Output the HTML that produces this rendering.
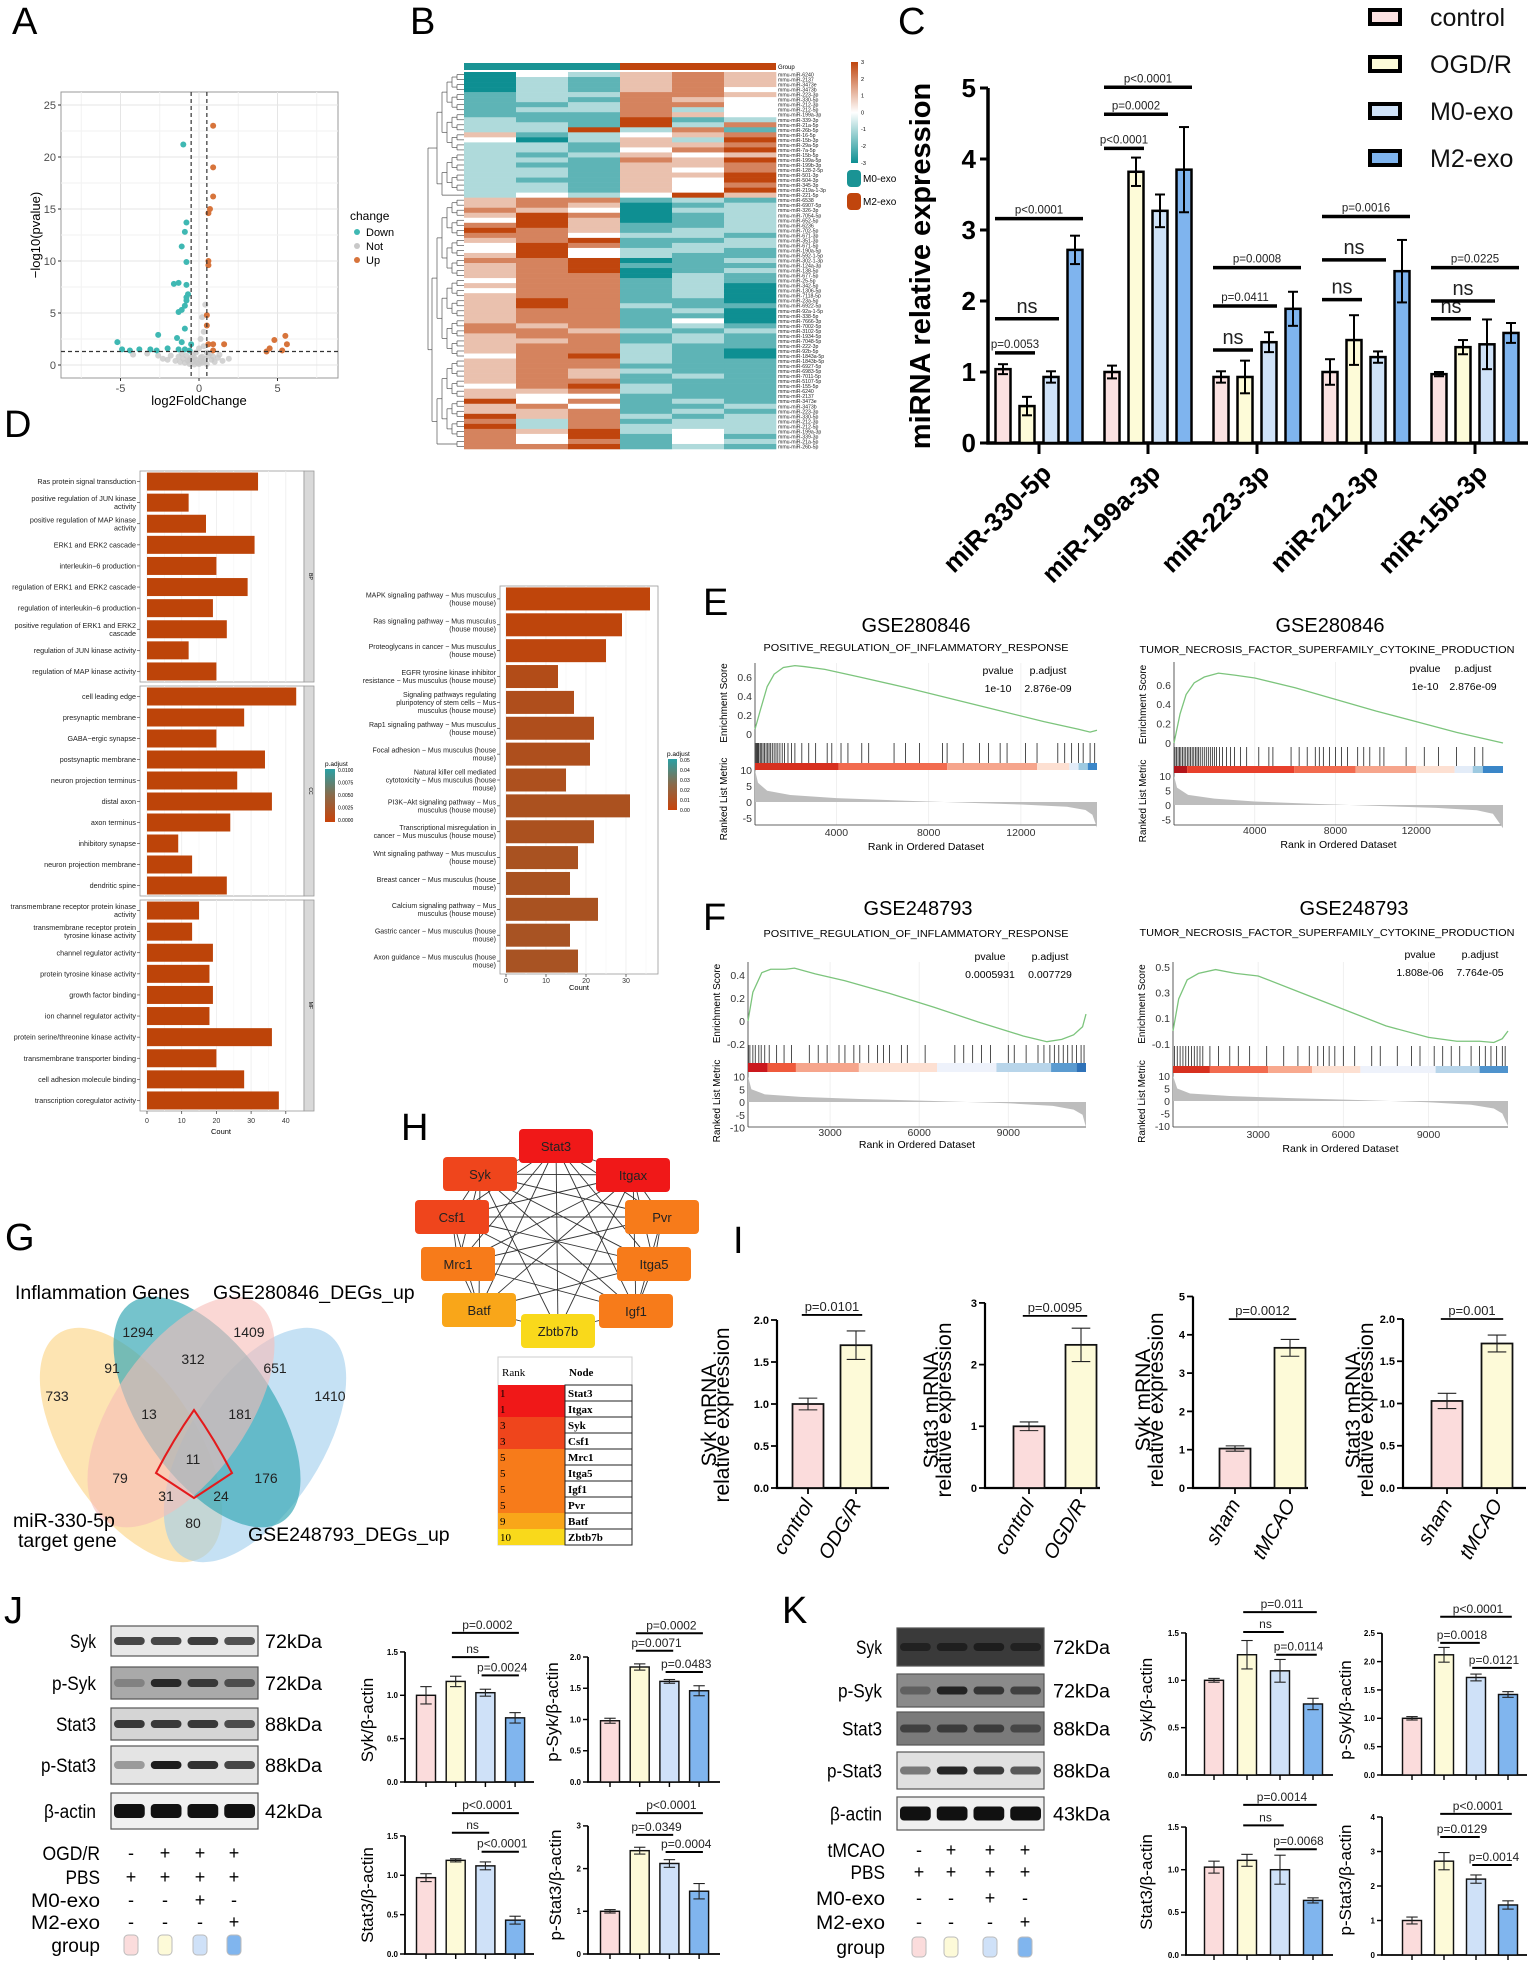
<!DOCTYPE html>
<html><head><meta charset="utf-8"><title>Figure</title>
<style>
html,body{margin:0;padding:0;background:#fff;}
svg{display:block;font-family:"Liberation Sans",Arial,sans-serif;}
</style></head>
<body>
<svg id="fig" xmlns="http://www.w3.org/2000/svg" width="1535" height="1966" viewBox="0 0 1535 1966">
<rect x="0" y="0" width="1535" height="1966" fill="#fff"/>
<g id="pA"></g>
<g id="pB"></g>
<g id="pC"></g>
<g id="pD"></g>
<g id="pE"></g>
<g id="pF"></g>
<g id="pG"></g>
<g id="pH"></g>
<g id="pI"></g>
<g id="pJ"></g>
<g id="pK"></g>
</svg>
<script>
// ---------------- DATA ----------------
const upX=[0.9,0.9,0.9,0.7,0.6,0.6,0.6,0.5,0.5,0.6,0.9,1.6,5.5,4.8,5.6,4.5,4.3,5.3,0.9];
const upY=[23,19,16.2,15,14.6,10,9.6,4.8,3.8,2,2,2,2.8,2.4,2,1.6,1.3,1.4,1.4];
const downX=[-1.0,-0.8,-0.9,-1.1,-0.8,-1.3,-1.6,-0.8,-0.7,-0.8,-0.8,-0.9,-1.1,-1.3,-0.9,-1.4,-2.6,-5.2,-4.9,-4.4,-3.8,-3.1,-2.7,-2.0,-1.3,-1.1,-0.9,-0.6,-0.5];
const downY=[21.2,13.7,12.8,11.4,9.9,7.9,7.8,7.7,6.8,6.5,6.2,5.7,5.3,5.1,3.5,2.6,2.9,2.2,1.5,1.4,1.5,1.5,1.4,1.6,1.5,2.2,1.5,1.4,2.0];
const notX=[-2.6,-2.3,-2.0,-1.8,-1.5,-1.3,-1.2,-1.0,-0.9,-0.8,-0.7,-0.6,-0.5,-0.4,-0.3,-0.2,-0.1,0,0.1,0.2,0.3,0.4,0.5,0.6,0.8,1.0,1.2,1.5,1.9,-3.3,-4.2,0.1,0.3,0.2,0.4,0.3,-0.2,0.0,0.5,-0.4,0.7,-1.1,0.1,-0.3,0.2,-0.6,0.9,1.3];
const notY=[0.9,0.6,0.5,0.9,0.4,0.8,0.3,0.6,0.2,0.9,0.4,0.1,0.7,0.3,0.05,0.5,0.2,0.1,0.4,0.8,0.3,0.6,0.1,0.9,0.5,0.3,0.7,0.4,0.6,1.1,1.0,2.5,3.2,4.6,5.8,1.8,1.2,1.6,1.2,1.0,1.1,1.1,0.7,0.7,0.2,0.5,0.8,1.0];
const volXTicks=[-5,0,5];
const volYTicks=[0,5,10,15,20,25];

const heatRows=["032454","021454","021454","021453","122554","121543","112553","122523","111543","211612","221625","226251","412345","302426","221445","221356","212434","221546","211445","221435","221446","211436","221435","221436","232364",
"455121","454012","543022","465012","364012","564112","654122","553221","456112","365122","363221","463211","556012","456111","456012","455021","355121","455120","355120","455120","465110","465211","455120","455110","455130","545121","554212","455121","445121","455211","455210","356210","455211","455111","454211","454121","455111","356211","445211","433111","635121","453112","445121","645212","525122","625222","546232","536131","535132","556121"];
const heatNames=['6240','2137','3473e','3473b','223-3p','330-5p','212-3p','212-5p','199a-3p','339-3p','21a-5p','26b-5p','16-5p','15b-3p','29a-5p','7a-5p','15b-5p','199a-5p','199b-3p','128-2-5p','501-3p','504-3p','345-3p','219a-1-3p','221-5p','6538','6907-5p','326-3p','7054-5p','652-5p','6236','702-5p','671-3p','351-3p','671-5p','190a-5p','592-1-5p','302-1-3p','124a-3p','138-5p','677-5p','25-5p','342-5p','1306-5p','7118-5p','23a-5p','6922-5p','92a-1-5p','338-5p','7666-3p','7002-5p','3102-5p','1934-5p','7048-5p','222-3p','92b-5p','1843a-5p','1843b-5p','6927-5p','6983-5p','7011-5p','5107-5p','155-5p'];
const heatGroups=['M0-exo','M0-exo','M0-exo','M2-exo','M2-exo','M2-exo'];

const cCats=['miR-330-5p','miR-199a-3p','miR-223-3p','miR-212-3p','miR-15b-3p'];
const cGroups=['control','OGD/R','M0-exo','M2-exo'];
const cMeans=[[1.04,0.52,0.93,2.72],[1.0,3.82,3.27,3.85],[0.93,0.93,1.42,1.89],[1.0,1.45,1.21,2.42],[0.97,1.35,1.39,1.55]];
const cErr=[[0.07,0.13,0.08,0.2],[0.09,0.2,0.23,0.6],[0.08,0.23,0.14,0.24],[0.18,0.35,0.08,0.44],[0.03,0.1,0.35,0.14]];
const cSigCat=[0,0,0,1,1,1,2,2,2,3,3,3,4,4,4];
const cSigTo=[1,2,3,1,2,3,1,2,3,1,2,3,1,2,3];
const cSigVal=[1.27,1.75,3.16,4.15,4.63,5.01,1.31,1.93,2.47,2.02,2.58,3.19,1.75,2.0,2.47];
const cSigLab=['p=0.0053','ns','p<0.0001','p<0.0001','p=0.0002','p<0.0001','ns','p=0.0411','p=0.0008','ns','ns','p=0.0016','ns','ns','p=0.0225'];
const cTicks=[0,1,2,3,4,5];

const goBPLab=['Ras protein signal transduction','positive regulation of JUN kinase|activity','positive regulation of MAP kinase|activity','ERK1 and ERK2 cascade','interleukin\u22126 production','regulation of ERK1 and ERK2 cascade','regulation of interleukin\u22126 production','positive regulation of ERK1 and ERK2|cascade','regulation of JUN kinase activity','regulation of MAP kinase activity'];
const goBPVal=[32,12,17,31,20,29,19,23,12,20];
const goCCLab=['cell leading edge','presynaptic membrane','GABA\u2212ergic synapse','postsynaptic membrane','neuron projection terminus','distal axon','axon terminus','inhibitory synapse','neuron projection membrane','dendritic spine'];
const goCCVal=[43,28,20,34,26,36,24,9,13,23];
const goMFLab=['transmembrane receptor protein kinase|activity','transmembrane receptor protein|tyrosine kinase activity','channel regulator activity','protein tyrosine kinase activity','growth factor binding','ion channel regulator activity','protein serine/threonine kinase activity','transmembrane transporter binding','cell adhesion molecule binding','transcription coregulator activity'];
const goMFVal=[15,13,19,18,19,18,36,20,28,38];
const goTicks=[0,10,20,30,40];
const keggLab=['MAPK signaling pathway \u2212 Mus musculus|(house mouse)','Ras signaling pathway \u2212 Mus musculus|(house mouse)','Proteoglycans in cancer \u2212 Mus musculus|(house mouse)','EGFR tyrosine kinase inhibitor|resistance \u2212 Mus musculus (house mouse)','Signaling pathways regulating|pluripotency of stem cells \u2212 Mus|musculus (house mouse)','Rap1 signaling pathway \u2212 Mus musculus|(house mouse)','Focal adhesion \u2212 Mus musculus (house|mouse)','Natural killer cell mediated|cytotoxicity \u2212 Mus musculus (house|mouse)','PI3K\u2212Akt signaling pathway \u2212 Mus|musculus (house mouse)','Transcriptional misregulation in|cancer \u2212 Mus musculus (house mouse)','Wnt signaling pathway \u2212 Mus musculus|(house mouse)','Breast cancer \u2212 Mus musculus (house|mouse)','Calcium signaling pathway \u2212 Mus|musculus (house mouse)','Gastric cancer \u2212 Mus musculus (house|mouse)','Axon guidance \u2212 Mus musculus (house|mouse)'];
const keggVal=[36,29,25,13,17,22,21,15,31,22,18,16,23,16,18];
const keggP=[0.001,0.002,0.003,0.012,0.015,0.015,0.016,0.017,0.018,0.018,0.02,0.02,0.02,0.021,0.021];
const keggTicks=[0,10,20,30];

const e1Rank=[470,700,1000,1300,1700,2200,2600,3500,5000,7000,9000,11000,13000,14500,15000,15300];
const e1ES=[0.05,0.25,0.5,0.63,0.7,0.72,0.71,0.68,0.6,0.49,0.37,0.25,0.13,0.05,0.02,0.04];
const e1Hits=[480,520,560,600,640,700,760,820,880,950,1020,1080,1150,1220,1300,1380,1460,1550,1650,1750,1900,2050,2200,2500,2800,3100,3600,3800,4200,4500,5100,5400,6500,7000,7600,8600,8800,9500,10200,10600,11100,11400,12200,12700,13600,13900,14200,14500,14700,15000,15200];
const e1Seg=[470,4100,8800,12700,14100,14500,14900,15300];
const e1SegCol=['#d7301f','#f26b4f','#f6a58c','#fde0d2','#e3ecf8','#9ecae1','#3a86c8'];
const e1MetR=[470,600,1000,2000,4000,7000,9500,12000,14000,14800,15100,15300];
const e1MetV=[10,6,3.5,2.2,1.2,0.4,-0.2,-0.8,-1.5,-2.5,-4,-8];

const e2Rank=[0,300,600,1000,1500,2200,3000,4000,6000,8000,10000,12000,14000,16300];
const e2ES=[0,0.3,0.5,0.62,0.68,0.72,0.7,0.67,0.57,0.45,0.33,0.22,0.11,0.0];
const e2Hits=[50,120,200,270,340,420,500,580,660,740,820,900,980,1060,1140,1220,1300,1400,1500,1600,1700,1800,1900,2000,2100,2250,2400,2600,2800,3000,3300,3600,4200,4700,4900,5800,6200,6600,7000,7200,7400,7700,8000,8300,8600,9100,9400,9700,10200,10400,11500,12400,13100,14000,14900,15300];
const e2Seg=[0,650,5950,9000,12000,13900,14800,15300,16300];
const e2SegCol=['#b3141a','#e8402c','#f26b4f','#f6a58c','#fde0d2','#e3ecf8','#9ecae1','#3a86c8'];
const e2MetR=[0,150,700,2000,4000,7000,10000,13000,15000,15800,16300];
const e2MetV=[10,6,3.5,2.2,1.2,0.4,-0.3,-1,-1.8,-3,-8];

const f1Rank=[236,400,700,1000,1500,1800,2500,3500,5000,6500,8000,9500,10300,10800,11200,11500,11616];
const f1ES=[0,0.25,0.42,0.45,0.45,0.46,0.41,0.35,0.24,0.12,-0.01,-0.13,-0.18,-0.16,-0.12,-0.05,0.06];
const f1Hits=[250,300,400,480,600,680,800,950,1200,1450,1700,2300,2600,2900,3300,3500,3800,4000,4300,4600,4800,5000,5400,5600,6200,7200,7500,7800,8100,8400,9000,9200,9600,10000,10200,10400,10550,10700,10850,11000,11150,11300,11450,11550];
const f1Seg=[236,900,1850,3970,6600,8600,10440,11300,11616];
const f1SegCol=['#cb181d','#ef5a3c','#f6a58c','#fde0d2','#eef2fb','#b8d5ea','#5b9bd0','#2f72b8'];
const f1MetR=[236,350,800,2000,4000,6500,9000,10500,11200,11500,11616];
const f1MetV=[10,5,3,2,1.2,0.4,-0.5,-1.5,-3,-5,-10];

const f2Rank=[0,200,500,900,1500,2200,3000,4500,6000,7500,9000,10000,10800,11300,11600,11800];
const f2ES=[0,0.25,0.4,0.45,0.48,0.45,0.43,0.3,0.17,0.04,-0.05,-0.08,-0.08,-0.09,-0.06,0.0];
const f2Hits=[50,150,250,350,450,550,650,750,850,950,1050,1300,1600,2000,2300,2700,3300,3900,4400,4800,5100,5300,5500,5700,6000,6400,7000,7300,7900,8400,8700,9200,9500,9800,10100,10500,10800,11000,11200,11400,11600,11700];
const f2Seg=[0,1300,3350,4900,6600,9250,10800,11800];
const f2SegCol=['#d7301f','#f26b4f','#f8a98e','#fde0d2','#eef2fb','#b8d5ea','#4f93cd'];
const f2MetR=[0,150,600,2000,4000,6500,9000,10500,11300,11600,11800];
const f2MetV=[10,5,3,2,1.2,0.4,-0.5,-1.5,-3,-5,-10];

const vennCounts=['1294','1409','91','312','651','733','1410','13','181','11','79','176','31','24','80'];
const vennSetNames=['Inflammation Genes','GSE280846_DEGs_up','miR-330-5p|target gene','GSE248793_DEGs_up'];

const netNodes=['Stat3','Syk','Itgax','Csf1','Pvr','Mrc1','Itga5','Batf','Igf1','Zbtb7b'];
const netRank=[1,3,1,3,5,5,5,9,5,10];
const netEdges=[[0,1],[0,2],[0,3],[0,4],[0,5],[0,6],[0,7],[0,8],[0,9],[1,2],[1,3],[1,4],[1,5],[1,6],[1,8],[1,7],[2,3],[2,4],[2,5],[2,6],[2,8],[2,7],[3,4],[3,5],[3,6],[3,8],[3,7],[4,5],[4,6],[4,8],[5,6],[5,8],[5,7],[6,8],[6,7],[8,9],[7,9],[1,9],[2,9]];
const tabRank=['1','1','3','3','5','5','5','5','9','10'];
const tabNode=['Stat3','Itgax','Syk','Csf1','Mrc1','Itga5','Igf1','Pvr','Batf','Zbtb7b'];

const i1Cats=['control','ODG/R'], i1Mean=[1.0,1.7], i1Err=[0.07,0.17];
const i2Cats=['control','OGD/R'], i2Mean=[1.0,2.32], i2Err=[0.07,0.27];
const i3Cats=['sham','tMCAO'], i3Mean=[1.03,3.66], i3Err=[0.07,0.22];
const i4Cats=['sham','tMCAO'], i4Mean=[1.03,1.71], i4Err=[0.09,0.1];
const i1Sig=[2.06], i2Sig=[2.79], i3Sig=[4.41], i4Sig=[2.0];
const i1Lab=['p=0.0101'], i2Lab=['p=0.0095'], i3Lab=['p=0.0012'], i4Lab=['p=0.001'];

const jSykMean=[1.0,1.16,1.03,0.74], jSykErr=[0.1,0.06,0.04,0.06];
const jPSykMean=[0.98,1.84,1.61,1.46], jPSykErr=[0.04,0.05,0.03,0.08];
const jStatMean=[0.97,1.19,1.12,0.43], jStatErr=[0.05,0.02,0.05,0.05];
const jPStatMean=[1.0,2.42,2.12,1.47], jPStatErr=[0.04,0.08,0.09,0.18];
const kSykMean=[1.0,1.27,1.1,0.75], kSykErr=[0.02,0.15,0.12,0.06];
const kPSykMean=[1.0,2.12,1.72,1.42], kPSykErr=[0.03,0.13,0.06,0.05];
const kStatMean=[1.03,1.11,1.0,0.64], kStatErr=[0.07,0.07,0.17,0.03];
const kPStatMean=[1.0,2.72,2.2,1.45], kPStatErr=[0.1,0.25,0.12,0.12];
const sigFrom=[1,1,2], sigTo=[3,2,3];
const jSykSig=[1.72,1.44,1.23], jSykLab=['p=0.0002','ns','p=0.0024'];
const jPSykSig=[2.38,2.1,1.76], jPSykLab=['p=0.0002','p=0.0071','p=0.0483'];
const jStatSig=[1.79,1.54,1.3], jStatLab=['p<0.0001','ns','p<0.0001'];
const jPStatSig=[3.3,2.79,2.39], jPStatLab=['p<0.0001','p=0.0349','p=0.0004'];
const kSykSig=[1.72,1.51,1.27], kSykLab=['p=0.011','ns','p=0.0114'];
const kPSykSig=[2.79,2.33,1.89], kPSykLab=['p<0.0001','p=0.0018','p=0.0121'];
const kStatSig=[1.76,1.52,1.24], kStatLab=['p=0.0014','ns','p=0.0068'];
const kPStatSig=[4.09,3.42,2.61], kPStatLab=['p<0.0001','p=0.0129','p=0.0014'];
const blotNames=['Syk','p-Syk','Stat3','p-Stat3','\u03b2-actin'];
const jKda=['72kDa','72kDa','88kDa','88kDa','42kDa'];
const kKda=['72kDa','72kDa','88kDa','88kDa','43kDa'];
const jBand=[[0.75,0.75,0.8,0.7],[0.25,0.85,0.75,0.6],[0.8,0.8,0.8,0.7],[0.35,0.95,0.85,0.75],[1,1,1,1]];
const kBand=[[0.6,0.65,0.7,0.6],[0.35,0.85,0.7,0.6],[0.55,0.6,0.6,0.5],[0.5,0.9,0.8,0.65],[1,1,1,1]];
const jCondRows=['OGD/R','PBS','M0-exo','M2-exo'];
const kCondRows=['tMCAO','PBS','M0-exo','M2-exo'];
const condSigns=[['-','+','+','+'],['+','+','+','+'],['-','-','+','-'],['-','-','-','+']];
const grpColors=['#fbdcdc','#fdfad8','#cfe1f8','#80b5ee'];

// ---------------- HELPERS ----------------
const NS='http://www.w3.org/2000/svg';
function E(tag,attrs,parent){const e=document.createElementNS(NS,tag);for(const k in attrs)e.setAttribute(k,attrs[k]);parent.appendChild(e);return e;}
function T(parent,x,y,str,fs,anchor,extra){
  const t=E('text',Object.assign({x:x,y:y,'font-size':fs,'text-anchor':anchor||'start',fill:'#000'},extra||{}),parent);
  t.textContent=str;
  
  
  return t;
}
function L(parent,x1,y1,x2,y2,stroke,sw,extra){return E('line',Object.assign({x1:x1,y1:y1,x2:x2,y2:y2,stroke:stroke,'stroke-width':sw},extra||{}),parent);}
function lerpCol(a,b,t){const pa=[1,3,5].map(i=>parseInt(a.substr(i,2),16)),pb=[1,3,5].map(i=>parseInt(b.substr(i,2),16));return 'rgb('+pa.map((v,i)=>Math.round(v+(pb[i]-v)*t)).join(',')+')';}
function letter(parent,ch,x,y){const t=T(parent,x,y,ch,38,'start');return t;}

// ---------------- PANEL A ----------------
(function(){
  const g=document.getElementById('pA');
  letter(g,'A',12,34);
  const X=v=>199+v*15.7, Y=v=>365-v*10.4;
  const bx0=61,bx1=338,by0=92,by1=378;
  const box=E('rect',{x:bx0,y:by0,width:bx1-bx0,height:by1-by0,fill:'#fff',stroke:'#999','stroke-width':1},g);
  
  
  for(let v=-7.5;v<=7.5;v+=2.5){L(g,X(v),by0,X(v),by1,Number.isInteger(v/5)?'#e5e5e5':'#f2f2f2',1);}
  for(let v=0;v<=25;v+=2.5){L(g,bx0,Y(v),bx1,Y(v),(v%5===0)?'#e5e5e5':'#f2f2f2',1);}
  volXTicks.forEach(v=>{L(g,X(v),by1,X(v),by1+3,'#333',1);T(g,X(v),by1+14,String(v),11,'middle',{fill:'#4d4d4d'});});
  volYTicks.forEach(v=>{L(g,bx0-3,Y(v),bx0,Y(v),'#333',1);T(g,bx0-5,Y(v)+4,String(v),11,'end',{fill:'#4d4d4d'});});
  notX.forEach((x,i)=>{const c=E('circle',{cx:X(x),cy:Y(notY[i]),r:3,fill:'#c8c8c8','fill-opacity':0.8},g);});
  downX.forEach((x,i)=>{const c=E('circle',{cx:X(x),cy:Y(downY[i]),r:3,fill:'#3fb8b3'},g);});
  upX.forEach((x,i)=>{const c=E('circle',{cx:X(x),cy:Y(upY[i]),r:3,fill:'#d7743b'},g);});
  L(g,X(-0.5),by0,X(-0.5),by1,'#333',1.2,{'stroke-dasharray':'4,3'});
  L(g,X(0.5),by0,X(0.5),by1,'#333',1.2,{'stroke-dasharray':'4,3'});
  L(g,bx0,Y(1.3),bx1,Y(1.3),'#333',1.2,{'stroke-dasharray':'4,3'});
  const yl=T(g,40,235,'\u2212log10(pvalue)',13,'middle',{transform:'rotate(-90 40 235)'});
  const xl=T(g,199,405,'log2FoldChange',13,'middle');
  T(g,350,220,'change',12,'start');
  [['Down','#3fb8b3',236],['Not','#c8c8c8',250],['Up','#d7743b',264]].forEach(r=>{
    const c=E('circle',{cx:357,cy:r[2]-4,r:3,fill:r[1]},g);
    T(g,366,r[2],r[0],11,'start');
  });
})();

// ---------------- PANEL B ----------------
(function(){
  const g=document.getElementById('pB');
  letter(g,'B',410,34);
  const x0=464,cw=52,yTop=72,yBot=449,n=heatRows.length,rh=(yBot-yTop)/n;
  const col=v=>v<0?lerpCol('#ffffff','#0e8f92',-v/3):lerpCol('#ffffff','#c0450d',v/3);
  heatGroups.forEach((gr,j)=>{const r=E('rect',{x:x0+j*cw,y:63,width:cw,height:7,fill:gr==='M0-exo'?'#1a9394':'#c0450d'},g);});
  heatRows.forEach((row,i)=>{
    for(let j=0;j<6;j++){
      const v=parseInt(row[j])-3;
      const r=E('rect',{x:x0+j*cw,y:yTop+i*rh,width:cw+0.3,height:rh+0.3,fill:col(v)},g);
      
      
    }
    T(g,778,yTop+(i+0.5)*rh+2,'mmu-miR-'+heatNames[i%heatNames.length],5.2,'start',{fill:'#222'});
  });
  T(g,778,69,'Group',6,'start');
  let nodes=[];for(let i=0;i<n;i++)nodes.push({y:yTop+(i+0.5)*rh,x:464});
  const groups=[nodes.slice(0,25),nodes.slice(25)];
  const roots=groups.map(arr=>{
    let lvl=arr,depth=0;
    while(lvl.length>1){depth++;const nx=[];for(let k=0;k<lvl.length;k+=2){if(k+1<lvl.length){const a=lvl[k],b=lvl[k+1],xx=462-depth*5;
      L(g,a.x,a.y,xx,a.y,'#555',0.7);L(g,b.x,b.y,xx,b.y,'#555',0.7);L(g,xx,a.y,xx,b.y,'#555',0.7);nx.push({x:xx,y:(a.y+b.y)/2});}else nx.push(lvl[k]);}
      lvl=nx;}
    return lvl[0];
  });
  L(g,roots[0].x,roots[0].y,428,roots[0].y,'#555',0.7);L(g,roots[1].x,roots[1].y,428,roots[1].y,'#555',0.7);L(g,428,roots[0].y,428,roots[1].y,'#555',0.7);
  const defs=E('defs',{},g);const lg=E('linearGradient',{id:'hmg',x1:0,y1:0,x2:0,y2:1},defs);
  E('stop',{offset:'0','stop-color':'#c0450d'},lg);E('stop',{offset:'0.5','stop-color':'#ffffff'},lg);E('stop',{offset:'1','stop-color':'#0e8f92'},lg);
  const lb=E('rect',{x:851,y:62,width:7,height:101,fill:'url(#hmg)'},g);
  [3,2,1,0,-1,-2,-3].forEach((v,k)=>T(g,861,64+k*16.8,String(v),5.5,'start'));
  const m0=E('rect',{x:847,y:170,width:14,height:17,rx:4,fill:'#1a9394'},g);
  T(g,863,182,'M0-exo',10,'start');
  const m2=E('rect',{x:847,y:193,width:14,height:17,rx:4,fill:'#c0450d'},g);
  T(g,863,205,'M2-exo',10,'start');
})();

// ---------------- PANEL C ----------------
const cColors=['#fbe1e1','#fdfbd8','#cfe2f8','#7fb4ee'];
(function(){
  const g=document.getElementById('pC');
  letter(g,'C',898,34);
  const ax=988,y0=443,ppu=71,Y=v=>y0-v*ppu;
  const gX=i=>1039+i*109, bX=(i,j)=>gX(i)+(j-1.5)*24;
  L(g,ax,Y(5),ax,y0,'#000',3.5);L(g,ax-1.7,y0,1528,y0,'#000',3.5);
  cTicks.forEach(v=>{L(g,ax-8,Y(v),ax,Y(v),'#000',3);T(g,ax-12,Y(v)+9,String(v),26,'end',{'font-weight':'bold'});});
  const yl=T(g,930,266,'miRNA relative expression',29,'middle',{'font-weight':'bold',transform:'rotate(-90 930 266)'});
  cCats.forEach((c,i)=>{
    L(g,gX(i),y0,gX(i),y0+11,'#000',3);
    const t=T(g,gX(i)+14,475,c,26,'end',{'font-weight':'bold',transform:'rotate(-45 '+(gX(i)+14)+' 475)'});
    cMeans[i].forEach((m,j)=>{
      const r=E('rect',{x:bX(i,j)-7.5,y:Y(m),width:15,height:m*ppu,fill:cColors[j],stroke:'#000','stroke-width':2.5},g);
      
      
      const e=cErr[i][j];
      L(g,bX(i,j),Y(m+e),bX(i,j),Y(m-e),'#000',2);L(g,bX(i,j)-5,Y(m+e),bX(i,j)+5,Y(m+e),'#000',2);L(g,bX(i,j)-5,Y(m-e),bX(i,j)+5,Y(m-e),'#000',2);
    });
  });
  cSigVal.forEach((v,k)=>{
    const i=cSigCat[k],j=cSigTo[k],xa=bX(i,0)-8,xb=bX(i,j)+8;
    const ln=L(g,xa,Y(v),xb,Y(v),'#000',3.5);
    const ns=cSigLab[k]==='ns';
    T(g,(xa+xb)/2,Y(v)-(ns?6:5),cSigLab[k],ns?20:11.5,'middle',{fill:'#222'});
  });
  cGroups.forEach((gr,j)=>{
    const y=17+j*47;
    const r=E('rect',{x:1370,y:y-7,width:30,height:14,fill:cColors[j],stroke:'#000','stroke-width':4},g);
    
    
    T(g,1430,y+9,gr,25,'start',{fill:'#111'});
  });
})();

// ---------------- PANEL D ----------------
(function(){
  const g=document.getElementById('pD');
  letter(g,'D',4,437);
  const X=v=>147+v*3.47;
  function facet(labs,vals,yt,yb,strip){
    const f=E('rect',{x:140,y:yt,width:164,height:yb-yt,fill:'#fff',stroke:'#999','stroke-width':0.8},g);
    goTicks.forEach(v=>L(g,X(v),yt,X(v),yb,'#ececec',0.8));
    [5,15,25,35].forEach(v=>L(g,X(v),yt,X(v),yb,'#f6f6f6',0.6));
    const s=E('rect',{x:304,y:yt,width:10,height:yb-yt,fill:'#d9d9d9',stroke:'#999','stroke-width':0.8},g);
    T(g,309,(yt+yb)/2,strip,5,'middle',{transform:'rotate(90 309 '+((yt+yb)/2)+')'});
    const sl=(yb-yt)/vals.length;
    vals.forEach((v,i)=>{
      const cy=yt+(i+0.5)*sl;
      const r=E('rect',{x:X(0),y:cy-9,width:X(v)-X(0),height:18,fill:'#bd4409'},g);
      
      
      const parts=labs[i].split('|');
      parts.forEach((p,k)=>T(g,136,cy+2.5+(k-(parts.length-1)/2)*8,p,7.2,'end',{fill:'#222'}));
      L(g,137,cy,140,cy,'#333',0.6);
    });
  }
  facet(goBPLab,goBPVal,471,682,'BP');
  facet(goCCLab,goCCVal,686,896,'CC');
  facet(goMFLab,goMFVal,900,1111,'MF');
  goTicks.forEach(v=>{L(g,X(v),1111,X(v),1114,'#333',0.7);T(g,X(v),1123,String(v),7,'middle',{fill:'#333'});});
  T(g,221,1134,'Count',7.5,'middle');
  const defs=E('defs',{},g);const lg=E('linearGradient',{id:'pag',x1:0,y1:0,x2:0,y2:1},defs);
  E('stop',{offset:'0','stop-color':'#2aa0a4'},lg);E('stop',{offset:'0.5','stop-color':'#8a6a4a'},lg);E('stop',{offset:'1','stop-color':'#c8430a'},lg);
  T(g,325,766,'p.adjust',6.5,'start');
  const gl=E('rect',{x:325,y:769,width:10,height:53,fill:'url(#pag)'},g);
  ['0.0100','0.0075','0.0050','0.0025','0.0000'].forEach((s,k)=>T(g,338,772+k*12.5,s,5,'start'));
  const KX=v=>506+v*4.0, kt=586,kb=974;
  const kf=E('rect',{x:500,y:kt,width:158,height:kb-kt,fill:'#fff',stroke:'#999','stroke-width':0.8},g);
  keggTicks.forEach(v=>L(g,KX(v),kt,KX(v),kb,'#ececec',0.8));
  [5,15,25,35].forEach(v=>L(g,KX(v),kt,KX(v),kb,'#f6f6f6',0.6));
  const ksl=(kb-kt)/keggVal.length;
  const pcol=p=>lerpCol('#c0440a','#2aa0a4',Math.min(1,p/0.05)*0.38);
  keggVal.forEach((v,i)=>{
    const cy=kt+(i+0.5)*ksl;
    const r=E('rect',{x:KX(0),y:cy-11.5,width:KX(v)-KX(0),height:23,fill:pcol(keggP[i])},g);
    
    
    const parts=keggLab[i].split('|');
    parts.forEach((p,k)=>T(g,496,cy+2.5+(k-(parts.length-1)/2)*8,p,7,'end',{fill:'#222'}));
    L(g,497,cy,500,cy,'#333',0.6);
  });
  keggTicks.forEach(v=>{L(g,KX(v),kb,KX(v),kb+3,'#333',0.7);T(g,KX(v),983,String(v),7,'middle',{fill:'#333'});});
  T(g,579,990,'Count',7.5,'middle');
  T(g,667,756,'p.adjust',6.5,'start');
  const kl=E('rect',{x:668,y:759,width:9,height:51,fill:'url(#pag)'},g);
  ['0.05','0.04','0.03','0.02','0.01','0.00'].forEach((s,k)=>T(g,680,762+k*10,s,5,'start'));
})();

// ---------------- PANELS E/F ----------------
function gsea(g,c,ranks,es,hits,seg,segCol,metR,metV){
  const X=r=>c.x0+(r-c.r0)/(c.r1-c.r0)*(c.x1-c.x0);
  const EY=v=>c.es0-v*c.esP, MY=v=>c.m0-v*c.mP;
  c.xt.forEach(v=>L(g,X(v),c.esTop,X(v),c.mBot,'#ececec',0.8));
  L(g,c.x0,c.esTop,c.x0,c.mBot,'#333',0.8);L(g,c.x0,c.mBot,c.x1,c.mBot,'#333',0.8);
  const ln=E('polyline',{points:ranks.map((r,i)=>X(r)+','+EY(es[i])).join(' '),fill:'none',stroke:'#7cc47c','stroke-width':1.3},g);
  
  
  hits.forEach(r=>{const h=L(g,X(r),c.hTop,X(r),c.hBot,'#222',0.8);});
  segCol.forEach((col,k)=>{const r=E('rect',{x:X(seg[k]),y:c.hBot,width:X(seg[k+1])-X(seg[k]),height:c.cbBot-c.hBot,fill:col},g);});
  const pts=[X(metR[0])+','+MY(0)].concat(metR.map((r,i)=>X(r)+','+MY(metV[i]))).concat([X(metR[metR.length-1])+','+MY(0)]);
  const mp=E('polygon',{points:pts.join(' '),fill:'#bdbdbd'},g);
  c.esT.forEach(v=>T(g,c.x0-3,EY(v)+4,String(v),c.fs,'end',{fill:'#333'}));
  c.mT.forEach(v=>T(g,c.x0-3,MY(v)+4,String(v),c.fs,'end',{fill:'#333'}));
  c.xt.forEach(v=>T(g,X(v),c.xtY,String(v),c.fs,'middle',{fill:'#333'}));
  T(g,(c.x0+c.x1)/2,c.xlY,'Rank in Ordered Dataset',10.5,'middle');
  const ey=(c.esTop+c.hTop)/2, my=(c.hTop+c.mBot)/2+15;
  T(g,c.x0-28,ey,'Enrichment Score',10,'middle',{transform:'rotate(-90 '+(c.x0-28)+' '+ey+')'});
  T(g,c.x0-28,my,'Ranked List Metric',10,'middle',{transform:'rotate(-90 '+(c.x0-28)+' '+my+')'});
  const gt=T(g,c.tx,c.gseY,c.gse,20,'middle');
  T(g,c.subX,c.subY,c.sub,10.5,'middle',{textLength:c.subW,lengthAdjust:'spacingAndGlyphs'});
  T(g,c.pvX,c.pvY,'pvalue',10.5,'middle');T(g,c.paX,c.pvY,'p.adjust',10.5,'middle');
  T(g,c.pvX,c.pvY+18,c.pv,10.5,'middle');T(g,c.paX,c.pvY+18,c.pa,10.5,'middle');
}
(function(){
  const g=document.getElementById('pE');
  letter(g,'E',703,615);
  gsea(g,{x0:755,x1:1097,r0:470,r1:15300,es0:734,esP:95,esTop:663,hTop:743,hBot:763,cbBot:770,m0:802,mP:3.2,mBot:825,
    esT:[0,0.2,0.4,0.6],mT:[10,5,0,-5],xt:[4000,8000,12000],xtY:836,xlY:850,fs:10.5,
    tx:916,gseY:632,gse:'GSE280846',subX:916,subY:651,sub:'POSITIVE_REGULATION_OF_INFLAMMATORY_RESPONSE',subW:305,pvX:998,paX:1048,pvY:674,pv:'1e-10',pa:'2.876e-09'},
    e1Rank,e1ES,e1Hits,e1Seg,e1SegCol,e1MetR,e1MetV);
  gsea(g,{x0:1174,x1:1503,r0:0,r1:16300,es0:743,esP:97,esTop:662,hTop:747,hBot:766,cbBot:773,m0:805,mP:2.9,mBot:825,
    esT:[0,0.2,0.4,0.6],mT:[10,5,0,-5],xt:[4000,8000,12000],xtY:834,xlY:848,fs:10.5,
    tx:1330,gseY:632,gse:'GSE280846',subX:1327,subY:653,sub:'TUMOR_NECROSIS_FACTOR_SUPERFAMILY_CYTOKINE_PRODUCTION',subW:375,pvX:1425,paX:1473,pvY:672,pv:'1e-10',pa:'2.876e-09'},
    e2Rank,e2ES,e2Hits,e2Seg,e2SegCol,e2MetR,e2MetV);
})();
(function(){
  const g=document.getElementById('pF');
  letter(g,'F',703,930);
  gsea(g,{x0:748,x1:1086,r0:236,r1:11616,es0:1021,esP:115,esTop:962,hTop:1045,hBot:1063,cbBot:1072,m0:1102,mP:2.55,mBot:1127,
    esT:[0.4,0.2,0,-0.2],mT:[10,5,0,-5,-10],xt:[3000,6000,9000],xtY:1136,xlY:1148,fs:10.5,
    tx:918,gseY:915,gse:'GSE248793',subX:916,subY:937,sub:'POSITIVE_REGULATION_OF_INFLAMMATORY_RESPONSE',subW:305,pvX:990,paX:1050,pvY:960,pv:'0.0005931',pa:'0.007729'},
    f1Rank,f1ES,f1Hits,f1Seg,f1SegCol,f1MetR,f1MetV);
  gsea(g,{x0:1173,x1:1508,r0:0,r1:11800,es0:1031,esP:128,esTop:962,hTop:1046,hBot:1066,cbBot:1073,m0:1101,mP:2.5,mBot:1127,
    esT:[0.5,0.3,0.1,-0.1],mT:[10,5,0,-5,-10],xt:[3000,6000,9000],xtY:1138,xlY:1152,fs:10.5,
    tx:1354,gseY:915,gse:'GSE248793',subX:1327,subY:936,sub:'TUMOR_NECROSIS_FACTOR_SUPERFAMILY_CYTOKINE_PRODUCTION',subW:375,pvX:1420,paX:1480,pvY:958,pv:'1.808e-06',pa:'7.764e-05'},
    f2Rank,f2ES,f2Hits,f2Seg,f2SegCol,f2MetR,f2MetV);
})();

// ---------------- PANEL G ----------------
(function(){
  const g=document.getElementById('pG');
  letter(g,'G',5,1250);
  const ells=[[131,1445,57,'#fbd27e',0.6],[255,1445,-57,'#9fcdec',0.6],[207,1412,55,'#3aa9b7',0.7],[181,1412,-55,'#f7bcb8',0.6]];
  ells.forEach(e=>{const el=E('ellipse',{cx:e[0],cy:e[1],rx:133,ry:66,fill:e[3],'fill-opacity':e[4],transform:'rotate('+e[2]+' '+e[0]+' '+e[1]+')'},g);});
  const pos=[[138,1337],[249,1337],[112,1373],[193,1364],[275,1373],[57,1401],[330,1401],[149,1419],[240,1419],[193,1464],[120,1483],[266,1483],[166,1501],[221,1501],[193,1528]];
  vennCounts.forEach((c,i)=>{const t=T(g,pos[i][0],pos[i][1],c,14,'middle',{fill:'#222'});});
  const red=E('path',{d:'M194,1410 Q215,1440 232,1473 L194,1498 L156,1473 Q173,1440 194,1410 Z',fill:'none',stroke:'#e41a1c','stroke-width':2},g);
  
  T(g,15,1299,vennSetNames[0],19.5,'start');
  T(g,213,1299,vennSetNames[1],19.5,'start');
  const p=vennSetNames[2].split('|');T(g,13,1527,p[0],19.5,'start');T(g,18,1547,p[1],19.5,'start');
  T(g,248,1541,vennSetNames[3],19.5,'start');
})();

// ---------------- PANEL H ----------------
(function(){
  const g=document.getElementById('pH');
  letter(g,'H',401,1140);
  const pos=[[556,1146],[480,1174],[633,1175],[452,1217],[662,1217],[458,1264],[654,1264],[479,1310],[636,1311],[558,1331]];
  const rc={1:'#f01818',3:'#ef451c',5:'#f77b1a',9:'#f9a619',10:'#f9d91b'};
  netEdges.forEach(e=>{const l=L(g,pos[e[0]][0],pos[e[0]][1],pos[e[1]][0],pos[e[1]][1],'#333',0.9);});
  netNodes.forEach((n,i)=>{
    const r=E('rect',{x:pos[i][0]-37,y:pos[i][1]-17,width:74,height:34,rx:4,fill:rc[netRank[i]]},g);
    
    
    T(g,pos[i][0],pos[i][1]+5,n,13,'middle',{fill:'#222'});
  });
  const tx0=498,tx1=632,tm=565,ty0=1357,hy=1385,rh=16;
  const tb=E('rect',{x:tx0,y:ty0,width:tx1-tx0,height:hy+10*rh-ty0,fill:'#fff',stroke:'#ccc','stroke-width':1},g);
  T(g,502,1376,'Rank',11,'start',{'font-family':'Liberation Serif, serif'});T(g,569,1376,'Node',11,'start',{'font-family':'Liberation Serif, serif','font-weight':'bold'});
  tabRank.forEach((r,i)=>{
    const y=hy+i*rh;
    const c=E('rect',{x:tx0,y:y,width:tm-tx0,height:rh,fill:rc[parseInt(r)]},g);
    E('rect',{x:tm,y:y,width:tx1-tm,height:rh,fill:'#fff',stroke:'#222','stroke-width':1},g);
    T(g,500,y+12,r,11,'start',{'font-family':'Liberation Serif, serif'});
    T(g,568,y+12,tabNode[i],11,'start',{'font-family':'Liberation Serif, serif','font-weight':'bold'});
  });
})();

// ---------------- BAR CHART (I/J/K) ----------------
function barChart(g,c,means,errs,cats,sigV,sigL,sigA,sigB){
  const Y=v=>c.y0-v*c.ppu, X=i=>c.bx0+i*c.step;
  L(g,c.ax,Y(c.ymax),c.ax,c.y0,'#000',c.lw);L(g,c.ax-c.lw/2,c.y0,c.end,c.y0,'#000',c.lw);
  c.ticks.forEach((v,k)=>{L(g,c.ax-c.tl,Y(v),c.ax,Y(v),'#000',c.lw*0.8);T(g,c.ax-c.tl-2,Y(v)+c.tfs*0.35,c.tlab[k],c.tfs,'end',{'font-weight':'bold'});});
  means.forEach((m,i)=>{
    const r=E('rect',{x:X(i)-c.bw/2,y:Y(m),width:c.bw,height:m*c.ppu,fill:c.cols[i],stroke:'#111','stroke-width':c.lw*0.8},g);
    
    
    const e=errs[i],cw=c.bw*0.3;
    L(g,X(i),Y(m+e),X(i),Y(m-e),'#222',1.1);L(g,X(i)-cw,Y(m+e),X(i)+cw,Y(m+e),'#222',1.1);L(g,X(i)-cw,Y(m-e),X(i)+cw,Y(m-e),'#222',1.1);
    L(g,X(i),c.y0,X(i),c.y0+c.tl,'#000',c.lw*0.8);
    if(cats){const t=T(g,X(i)+6,c.y0+c.tl+10,cats[i],c.cfs,'end',{'font-style':'italic',transform:'rotate(-60 '+(X(i)+6)+' '+(c.y0+c.tl+10)+')'});}
  });
  sigV.forEach((v,k)=>{
    const a=sigA?sigA[k]:0,b=sigB?sigB[k]:1;
    const xa=X(a)-c.bw*0.2,xb=X(b)+c.bw*0.2;
    const l=L(g,xa,Y(v),xb,Y(v),'#000',c.sw);
    T(g,(xa+xb)/2+(c.sigShift||0),Y(v)-4,sigL[k],c.sfs,'middle',{fill:'#222'});
  });
  c.ylab.forEach((s,k)=>{const x=c.ylx+k*c.yld;const t=T(g,x,c.yly,s,c.yfs,'middle',{transform:'rotate(-90 '+x+' '+c.yly+')'});});
}
(function(){
  const g=document.getElementById('pI');
  letter(g,'I',733,1253);
  const base={y0:1488,lw:2.2,tl:6,tfs:11,bw:31,cols:[grpColors[0],grpColors[1]],sw:1.8,sfs:13,yfs:21,yld:13,cfs:20};
  const t2=['0.0','0.5','1.0','1.5','2.0'];
  barChart(g,Object.assign({},base,{ax:777,ppu:84,ymax:2,ticks:[0,0.5,1,1.5,2],tlab:t2,bx0:808,step:48,end:889,ylab:['Syk mRNA','relative expression'],ylx:716,yly:1415}),i1Mean,i1Err,i1Cats,i1Sig,i1Lab);
  barChart(g,Object.assign({},base,{ax:985,ppu:61.7,ymax:3,ticks:[0,1,2,3],tlab:['0','1','2','3'],bx0:1029,step:52,end:1100,ylab:['Stat3 mRNA','relative expression'],ylx:938,yly:1410}),i2Mean,i2Err,i2Cats,i2Sig,i2Lab);
  barChart(g,Object.assign({},base,{ax:1193,ppu:38.3,ymax:5,ticks:[0,1,2,3,4,5],tlab:['0','1','2','3','4','5'],bx0:1235,step:55,end:1308,ylab:['Syk mRNA','relative expression'],ylx:1150,yly:1400}),i3Mean,i3Err,i3Cats,i3Sig,i3Lab);
  barChart(g,Object.assign({},base,{ax:1403,ppu:84.5,ymax:2,ticks:[0,0.5,1,1.5,2],tlab:t2,bx0:1447,step:50,end:1526,ylab:['Stat3 mRNA','relative expression'],ylx:1360,yly:1410}),i4Mean,i4Err,i4Cats,i4Sig,i4Lab);
})();

// ---------------- WESTERN + QUANT ----------------
function westPanel(g,cfg,band,kda,condRows){
  blotNames.forEach((n,b)=>{
    const y0=cfg.by[b][0],y1=cfg.by[b][1];
    const r=E('rect',{x:cfg.bx0,y:y0,width:cfg.bx1-cfg.bx0,height:y1-y0,fill:cfg.bg[b],stroke:'#555','stroke-width':1.2},g);
    
    
    const lw=(cfg.bx1-cfg.bx0)/4;
    band[b].forEach((v,i)=>{const bd=E('rect',{x:cfg.bx0+i*lw+3,y:(y0+y1)/2-(b===4?7:4),width:lw-6,height:b===4?14:8,rx:4,fill:'#111','fill-opacity':v},g);});
    T(g,cfg.lx,(y0+y1)/2+7,n,19,'end',{textLength:cfg.lw[b],lengthAdjust:'spacingAndGlyphs'});
    T(g,cfg.kx,(y0+y1)/2+7,kda[b],19,'start',{textLength:57,lengthAdjust:'spacingAndGlyphs'});
  });
  condRows.forEach((n,r)=>{
    T(g,cfg.clx,cfg.cy[r]+7,n,19,'end',{textLength:n.length*11.5,lengthAdjust:'spacingAndGlyphs'});
    condSigns[r].forEach((s,i)=>T(g,cfg.cx[i],cfg.cy[r]+6,s,18,'middle'));
  });
  T(g,cfg.clx,cfg.cy[4]+7,'group',19,'end');
  grpColors.forEach((c,i)=>{const r=E('rect',{x:cfg.cx[i]-7,y:cfg.cy[4]-10,width:14,height:20,rx:4,fill:c,stroke:'#bbb','stroke-width':1},g);});
}
const qBase={lw:1.8,tl:5,tfs:8,bw:19,cols:grpColors,sw:2,sfs:12,yfs:17,yld:0,cfs:0,step:29.7,sigShift:2};
(function(){
  const g=document.getElementById('pJ');
  letter(g,'J',4,1623);
  westPanel(g,{bx0:111,bx1:258,by:[[1626,1656],[1667,1699],[1708,1740],[1746,1784],[1793,1829]],bg:['#e8e8e8','#a9a9a9','#d5d5d5','#e4e4e4','#f0f0f0'],lx:96,kx:265,lw:[26,44,40,55,52],clx:100,cy:[1853,1877,1900,1922,1945],cx:[131,165,200,234]},jBand,jKda,jCondRows);
  barChart(g,Object.assign({},qBase,{ax:405,y0:1782,ppu:86.7,ymax:1.5,ticks:[0,0.5,1,1.5],tlab:['0.0','0.5','1.0','1.5'],bx0:426,end:534,ylab:['Syk/\u03b2-actin'],ylx:373,yly:1720}),jSykMean,jSykErr,null,jSykSig,jSykLab,sigFrom,sigTo);
  barChart(g,Object.assign({},qBase,{ax:588,y0:1782,ppu:62.5,ymax:2,ticks:[0,0.5,1,1.5,2],tlab:['0.0','0.5','1.0','1.5','2.0'],bx0:610,end:720,ylab:['p-Syk/\u03b2-actin'],ylx:558,yly:1712}),jPSykMean,jPSykErr,null,jPSykSig,jPSykLab,sigFrom,sigTo);
  barChart(g,Object.assign({},qBase,{ax:405,y0:1954,ppu:78.7,ymax:1.5,ticks:[0,0.5,1,1.5],tlab:['0.0','0.5','1.0','1.5'],bx0:426,end:534,ylab:['Stat3/\u03b2-actin'],ylx:373,yly:1895}),jStatMean,jStatErr,null,jStatSig,jStatLab,sigFrom,sigTo);
  barChart(g,Object.assign({},qBase,{ax:588,y0:1954,ppu:42.7,ymax:3,ticks:[0,1,2,3],tlab:['0','1','2','3'],bx0:610,end:720,ylab:['p-Stat3/\u03b2-actin'],ylx:561,yly:1885}),jPStatMean,jPStatErr,null,jPStatSig,jPStatLab,sigFrom,sigTo);
})();
(function(){
  const g=document.getElementById('pK');
  letter(g,'K',782,1623);
  westPanel(g,{bx0:897,bx1:1044,by:[[1628,1666],[1674,1707],[1712,1745],[1752,1789],[1797,1830]],bg:['#3a3a3a','#8a8a8a','#7a7a7a','#e0e0e0','#f0f0f0'],lx:882,kx:1053,lw:[26,44,40,55,52],clx:885,cy:[1850,1872,1898,1922,1947],cx:[919,951,990,1025]},kBand,kKda,kCondRows);
  barChart(g,Object.assign({},qBase,{ax:1186,y0:1775,ppu:94.7,ymax:1.5,ticks:[0,0.5,1,1.5],tlab:['0.0','0.5','1.0','1.5'],bx0:1214,step:33,end:1333,ylab:['Syk/\u03b2-actin'],ylx:1152,yly:1700}),kSykMean,kSykErr,null,kSykSig,kSykLab,sigFrom,sigTo);
  barChart(g,Object.assign({},qBase,{ax:1382,y0:1775,ppu:56.7,ymax:2.5,ticks:[0,0.5,1,1.5,2,2.5],tlab:['0.0','0.5','1.0','1.5','2.0','2.5'],bx0:1412,step:32,end:1527,ylab:['p-Syk/\u03b2-actin'],ylx:1351,yly:1710}),kPSykMean,kPSykErr,null,kPSykSig,kPSykLab,sigFrom,sigTo);
  barChart(g,Object.assign({},qBase,{ax:1186,y0:1955,ppu:85.3,ymax:1.5,ticks:[0,0.5,1,1.5],tlab:['0.0','0.5','1.0','1.5'],bx0:1214,step:33,end:1333,ylab:['Stat3/\u03b2-actin'],ylx:1152,yly:1882}),kStatMean,kStatErr,null,kStatSig,kStatLab,sigFrom,sigTo);
  barChart(g,Object.assign({},qBase,{ax:1382,y0:1955,ppu:34.5,ymax:4,ticks:[0,1,2,3,4],tlab:['0','1','2','3','4'],bx0:1412,step:32,end:1527,ylab:['p-Stat3/\u03b2-actin'],ylx:1351,yly:1880}),kPStatMean,kPStatErr,null,kPStatSig,kPStatLab,sigFrom,sigTo);
})();
</script>
</body></html>
